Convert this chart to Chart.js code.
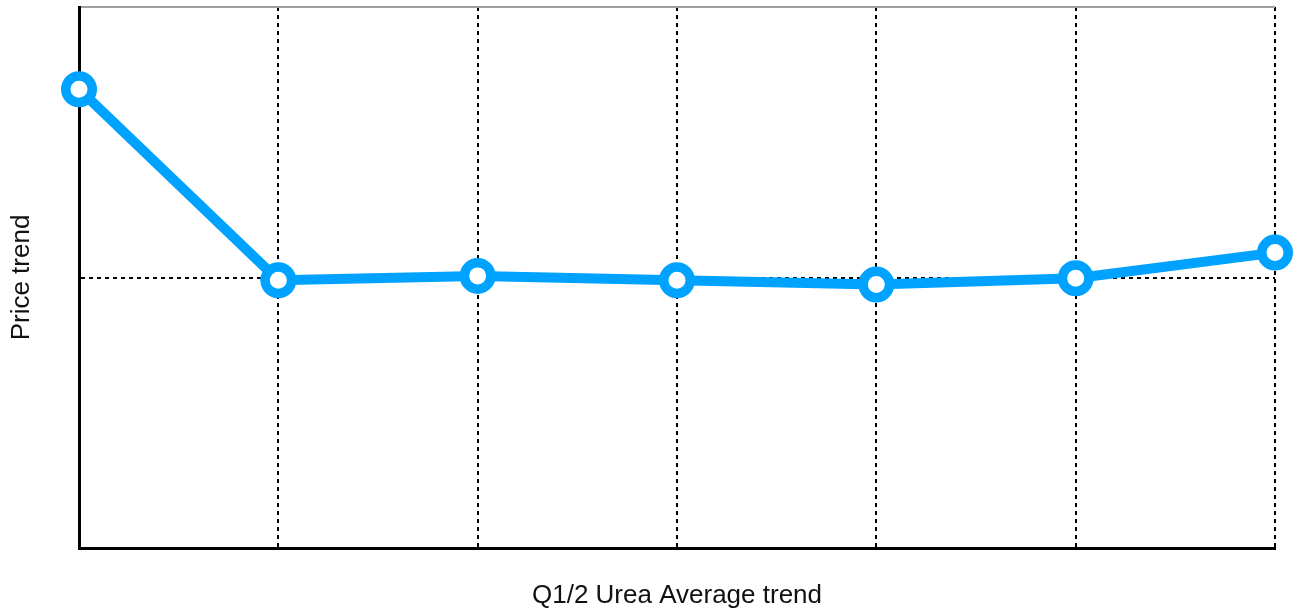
<!DOCTYPE html>
<html>
<head>
<meta charset="utf-8">
<script src="https://cdn.jsdelivr.net/npm/chart.js@4"></script>
<style>
  html, body { margin: 0; padding: 0; background: #fff; }
  #wrap { width: 1296px; height: 614px; }
</style>
</head>
<body>
<div id="wrap"><canvas id="trend-chart" width="1296" height="614"></canvas></div>
<script>
// Chart values (no tick labels are shown)
const categories = ['P1', 'P2', 'P3', 'P4', 'P5', 'P6', 'P7'];
const priceValues = [84.8, 49.5, 50.3, 49.5, 48.7, 49.85, 54.6];
const yMin = 0;
const yMax = 100;
const yStep = 50;

const COLORS = {
  line: '#00a2ff',
  axis: '#000000',
  grid: '#000000',
  top: '#a0a0a0',
  text: '#111111'
};

const FONT = 'Helvetica, Arial, "Liberation Sans", sans-serif';

// Big markers would otherwise push the plot area inwards; the reference lets them overflow
Chart.LineController.prototype.getMaxOverflow = function () { return 0; };

const ctx = document.getElementById('trend-chart').getContext('2d');

new Chart(ctx, {
  type: 'line',
  data: {
    labels: categories,
    datasets: [{
      label: 'Price trend',
      data: priceValues,
      borderColor: COLORS.line,
      borderWidth: 10,
      backgroundColor: '#ffffff',
      pointBackgroundColor: '#ffffff',
      pointBorderColor: COLORS.line,
      pointBorderWidth: 9.5,
      pointRadius: 13.25,
      pointHoverRadius: 13.25,
      tension: 0,
      clip: false
    }]
  },
  options: {
    responsive: false,
    animation: false,
    devicePixelRatio: 1,
    layout: {
      padding: { left: 0, right: 21, top: 7, bottom: 0 }
    },
    plugins: {
      legend: { display: false },
      tooltip: { enabled: false }
    },
    scales: {
      x: {
        offset: false,
        ticks: { display: false },
        grid: {
          drawTicks: false,
          lineWidth: 2,
          color: (c) => c.index === 0 ? 'rgba(0,0,0,0)' : COLORS.grid
        },
        border: { display: true, color: COLORS.axis, width: 3, dash: [4, 4] },
        title: {
          display: true,
          text: 'Q1/2 Urea Average trend',
          color: COLORS.text,
          font: { family: FONT, size: 26 },
          padding: { top: 0, bottom: 3 }
        },
        afterFit: (scale) => { scale.height = 66; }
      },
      y: {
        min: yMin,
        max: yMax,
        ticks: { display: false, stepSize: yStep },
        grid: {
          drawTicks: false,
          lineWidth: 2,
          color: (c) => {
            if (!c.tick) return 'rgba(0,0,0,0)';
            if (c.tick.value === yStep) return COLORS.grid;
            if (c.tick.value === yMax) return COLORS.top;
            return 'rgba(0,0,0,0)';
          }
        },
        border: {
          display: true,
          color: COLORS.axis,
          width: 3,
          dash: (c) => c.tick && c.tick.value === yMax ? [] : [4, 4]
        },
        title: {
          display: true,
          text: 'Price trend',
          color: COLORS.text,
          font: { family: FONT, size: 26 },
          padding: { top: 6, bottom: 0 }
        },
        afterFit: (scale) => { scale.width = 79; }
      }
    }
  }
});
</script>
</body>
</html>
